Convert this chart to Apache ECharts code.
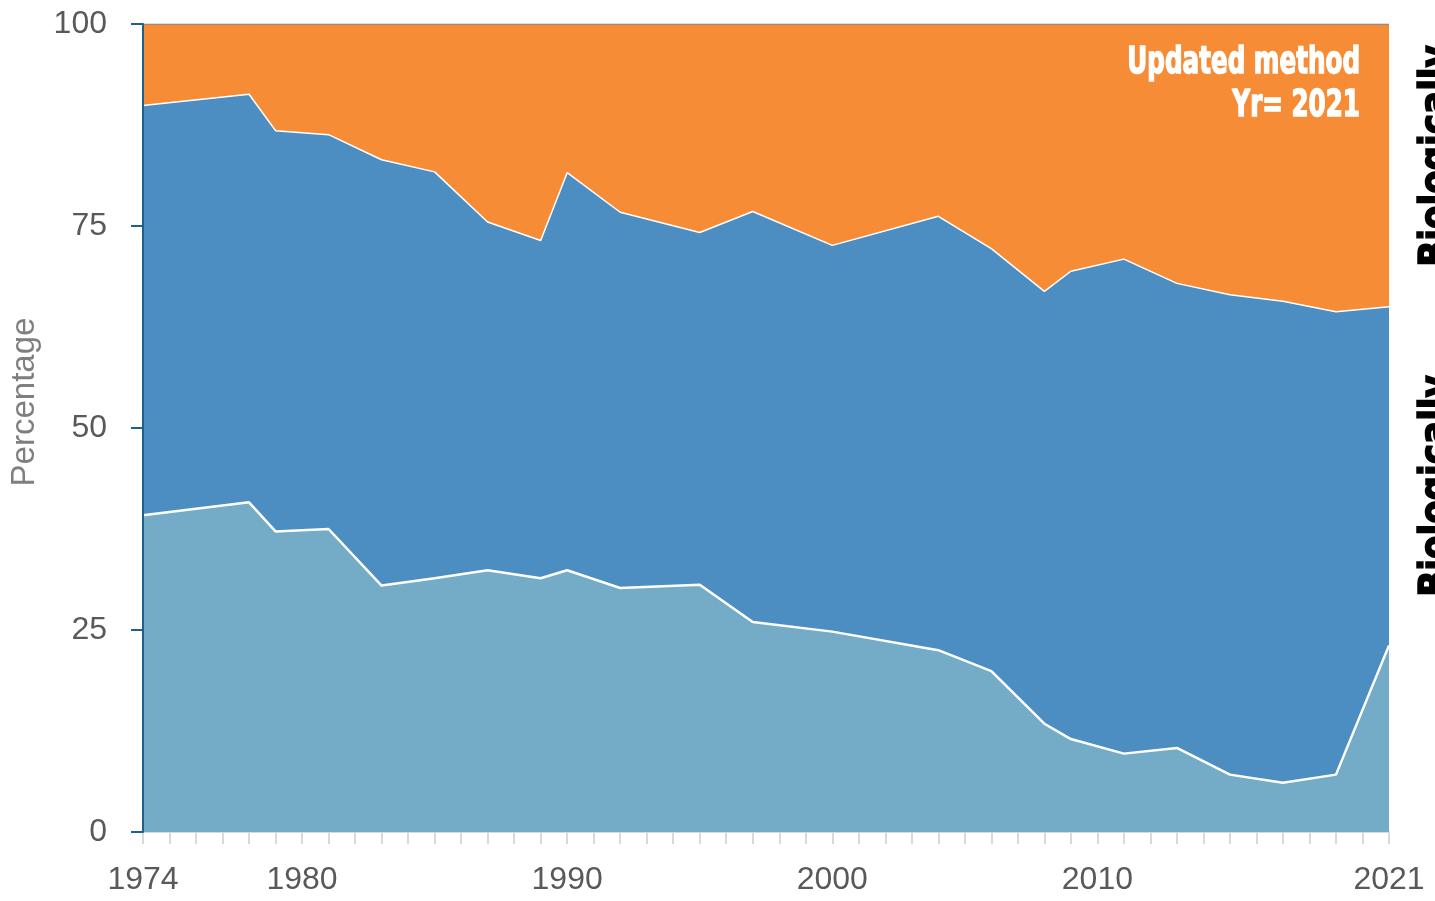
<!DOCTYPE html>
<html>
<head>
<meta charset="utf-8">
<script src="https://cdn.jsdelivr.net/npm/echarts@6/dist/echarts.min.js"></script>
<style>
  html, body { margin: 0; padding: 0; background: #fff; }
  #chart { width: 1435px; height: 901px; }
</style>
</head>
<body>
<div id="chart"></div>
<script>
// survey years with a data point
var years = [1974, 1978, 1979, 1981, 1983, 1985, 1987, 1989, 1990, 1992, 1995, 1997,
  2000, 2004, 2006, 2008, 2009, 2011, 2013, 2015, 2017, 2019, 2021]
// bottom band (light blue)
var lowValues = [39.2, 40.8, 37.2, 37.5, 30.5, 31.4, 32.4, 31.4, 32.4, 30.2, 30.6, 26.0,
  24.8, 22.5, 19.9, 13.4, 11.5, 9.7, 10.4, 7.1, 6.1, 7.1, 23.1]
// middle band (blue)
var midValues = [50.7, 50.5, 49.6, 48.8, 52.7, 50.3, 43.1, 41.8, 49.2, 46.5, 43.6, 50.8,
  47.8, 53.7, 52.3, 53.5, 57.9, 61.2, 57.5, 59.4, 59.6, 57.3, 41.9]
// top band (orange)
var topValues = [10.1, 8.7, 13.2, 13.7, 16.8, 18.3, 24.5, 26.8, 18.4, 23.3, 25.8, 23.2,
  27.4, 23.8, 27.8, 33.1, 30.6, 29.1, 32.1, 33.5, 34.3, 35.6, 35.0]
var xLabels = [1974, 1980, 1990, 2000, 2010, 2021]
var yTicks = [0, 25, 50, 75, 100]

// stack by hand: each band drawn from 0 up to its running total, lower bands on top
function stacked (bands) {
  return years.map(function (y, i) {
    var s = 0
    bands.forEach(function (b) { s += b[i] })
    return [y, Math.round(s * 10) / 10]
  })
}

var chart = echarts.init(document.getElementById('chart'))
var font = 'Liberation Sans, Arial, sans-serif'
var heavy = '"Liberation Sans Narrow", "DejaVu Sans Condensed", sans-serif'

chart.setOption({
  animation: false,
  grid: { left: 142, right: 46, top: 24, bottom: 69 },
  xAxis: {
    type: 'value',
    min: 1974,
    max: 2021,
    interval: 1,
    axisLine: { show: true, lineStyle: { color: '#d9d9d9', width: 2 } },
    axisTick: { show: true, length: 12, lineStyle: { color: '#d9d9d9', width: 2 } },
    splitLine: { show: false },
    axisLabel: {
      margin: 32,
      fontSize: 32,
      fontFamily: font,
      color: '#595959',
      showMinLabel: true,
      showMaxLabel: true,
      formatter: function (v) {
        return xLabels.indexOf(v) >= 0 ? String(v) : ''
      }
    }
  },
  yAxis: {
    type: 'value',
    min: yTicks[0],
    max: yTicks[yTicks.length - 1],
    interval: 25,
    z: 10,
    name: 'Percentage',
    nameLocation: 'middle',
    nameGap: 102,
    nameRotate: 90,
    nameTextStyle: { fontSize: 33, fontFamily: font, color: '#7f7f7f', padding: [0, 0, 0, 52] },
    axisLine: { show: true, lineStyle: { color: '#1f5f8b', width: 2 } },
    axisTick: { show: true, length: 12, lineStyle: { color: '#1f5f8b', width: 2 } },
    splitLine: { show: false },
    axisLabel: { margin: 36, fontSize: 32, fontFamily: font, color: '#595959' }
  },
  series: [
    {
      type: 'line', z: 1, symbol: 'none',
      data: stacked([lowValues, midValues, topValues]),
      lineStyle: { color: '#4a86b8', width: 1 },
      areaStyle: { color: '#f68c35', opacity: 1 }
    },
    {
      type: 'line', z: 2, symbol: 'none',
      data: stacked([lowValues, midValues]),
      lineStyle: { color: '#ffffff', width: 1.5 },
      areaStyle: { color: '#4d8ec2', opacity: 1 }
    },
    {
      type: 'line', z: 3, symbol: 'none',
      data: stacked([lowValues]),
      lineStyle: { color: '#ffffff', width: 2.5 },
      areaStyle: { color: '#74abc6', opacity: 1 }
    }
  ],
  graphic: [
    {
      type: 'text', x: 1360, y: 42, scaleX: 0.72, z: 20,
      style: {
        text: 'Updated method\nYr= 2021',
        fill: '#ffffff',
        stroke: '#ffffff',
        lineWidth: 1.5,
        font: 'bold 38px ' + heavy,
        textAlign: 'right',
        lineHeight: 43
      }
    },
    {
      type: 'text', x: 1438, y: 156, rotation: Math.PI / 2, scaleX: 0.95, z: 20,
      style: {
        text: 'Biologically',
        fill: '#000000',
        stroke: '#000000',
        lineWidth: 1.5,
        font: 'bold 40px ' + heavy,
        textAlign: 'center',
        textVerticalAlign: 'middle'
      }
    },
    {
      type: 'text', x: 1438, y: 486, rotation: Math.PI / 2, scaleX: 0.95, z: 20,
      style: {
        text: 'Biologically',
        fill: '#000000',
        stroke: '#000000',
        lineWidth: 1.5,
        font: 'bold 40px ' + heavy,
        textAlign: 'center',
        textVerticalAlign: 'middle'
      }
    }
  ]
})
</script>
</body>
</html>
